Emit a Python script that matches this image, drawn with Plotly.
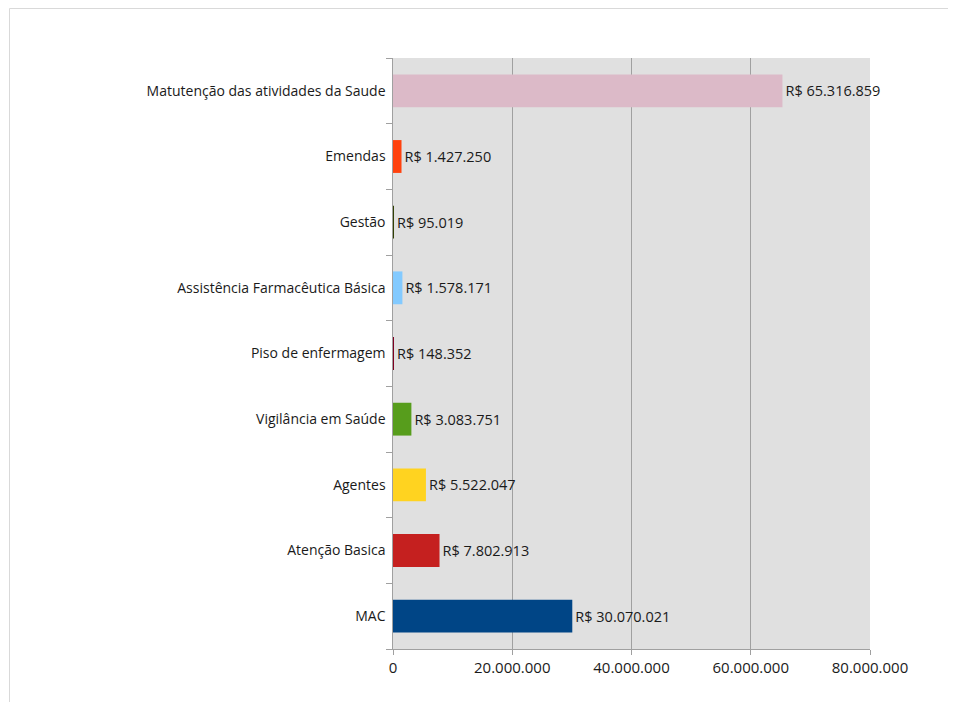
import plotly.graph_objects as go

categories = ["MAC", "Atenção Basica", "Agentes", "Vigilância em Saúde", "Piso de enfermagem",
              "Assistência Farmacêutica Básica", "Gestão", "Emendas",
              "Matutenção das atividades da Saude"]
values = [30070021, 7802913, 5522047, 3083751, 148352, 1578171, 95019, 1427250, 65316859]
colors = ["#004586", "#c5201f", "#ffd320", "#579d1c", "#7e0021", "#83caff", "#314004",
          "#ff420e", "#dcbac8"]
xticks = [0, 20000000, 40000000, 60000000, 80000000]

def fmt(v):
    return "R$ " + f"{v:,}".replace(",", ".")

labels = [fmt(v) for v in values]

# page has an 8px body margin; size the figure to fit the 956x702 window
W, H = 948, 694
ml, mr, mt, mb = 385, 86, 50, 53

fig = go.Figure(go.Bar(
    x=values, y=categories, orientation="h",
    marker=dict(color=colors, line=dict(width=0)),
    width=0.5,
    text=labels, textposition="outside", cliponaxis=False,
    textfont=dict(family="Open Sans", size=14.5, color="#1a1a1a"),
    hoverinfo="skip",
))

fig.update_layout(
    width=W, height=H,
    margin=dict(l=ml, r=mr, t=mt, b=mb),
    paper_bgcolor="white", plot_bgcolor="#e0e0e0",
    separators=",.",
    showlegend=False,
    font=dict(family="Open Sans", size=14, color="#1a1a1a"),
    xaxis=dict(range=[0, 80000000], tickvals=xticks, tickformat=",d",
               tickfont=dict(size=15),
               showgrid=True, gridcolor="#a0a0a0", gridwidth=1,
               showline=True, linecolor="#a0a0a0", linewidth=1,
               ticks="outside", ticklen=5, tickcolor="#a0a0a0",
               zeroline=False, fixedrange=True),
    yaxis=dict(type="category", categoryorder="array", categoryarray=categories,
               showgrid=False, showline=True, linecolor="#a0a0a0", linewidth=1,
               ticks="outside", ticklen=6, tickcolor="#a0a0a0", tickson="boundaries",
               ticksuffix=" ", fixedrange=True),
    bargap=0.5,
)

pw = W - ml - mr
ph = H - mt - mb
fx0 = (1.5 - ml) / pw
fy0 = 1 + (mt - 0.5) / ph
fig.add_shape(type="line", xref="paper", yref="paper", x0=fx0, x1=(W + 5 - ml) / pw,
              y0=fy0, y1=fy0, line=dict(color="#d9d9d9", width=1))
fig.add_shape(type="line", xref="paper", yref="paper", x0=fx0, x1=fx0,
              y0=fy0, y1=-(mb + 5) / ph, line=dict(color="#d9d9d9", width=1))

fig.write_html("out.html")
